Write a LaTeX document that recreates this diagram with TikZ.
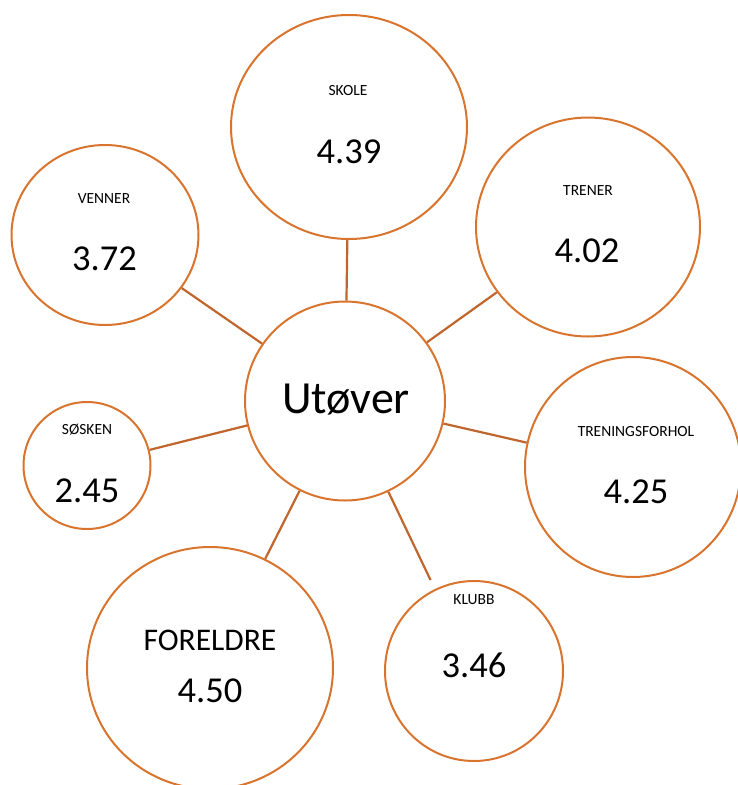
\documentclass[tikz,border=0pt]{standalone}
\usepackage{fontspec}
\setmainfont{Carlito}
\usetikzlibrary{shapes.geometric}
\definecolor{ringorange}{HTML}{D8742E}
\definecolor{spokebrown}{HTML}{C0662C}
\tikzset{
  ring/.style={ellipse, draw=ringorange, line width=2pt, fill=white, inner sep=0pt},
  spoke/.style={draw=spokebrown, line width=2.2pt},
  smalllabel/.style={inner sep=0pt, font=\fontsize{15.5}{16}\selectfont},
  value/.style={inner sep=0pt, font=\fontsize{36.5}{38}\selectfont},
}
\begin{document}
\begin{tikzpicture}[x=1pt, y=-1pt]
  \useasboundingbox (0,0) rectangle (738,785);
  \clip (0,0) rectangle (738,785);

  % hub and satellite circles
  \node[ring, minimum width=200pt, minimum height=199pt] (hub) at (345,401) {};
  \node[ring, minimum width=236pt, minimum height=224pt] (skole) at (349,127) {};
  \node[ring, minimum width=187pt, minimum height=180pt] (venner) at (105,235) {};
  \node[ring, minimum width=224pt, minimum height=219pt] (trener) at (588,227) {};
  \node[ring, minimum width=127pt, minimum height=127pt] (sosken) at (87,465.5) {};
  \node[ring, minimum width=216pt, minimum height=220pt] (forhold) at (633,467) {};
  \node[ring, minimum width=246pt, minimum height=242pt] (foreldre) at (210,668) {};
  \node[ring, minimum width=178pt, minimum height=180pt] (klubb) at (474,671) {};

  % spokes from the hub
  \path[spoke] (hub) -- (skole);
  \path[spoke] (hub) -- (venner);
  \path[spoke] (hub) -- (trener);
  \path[spoke] (hub) -- (sosken);
  \path[spoke] (hub) -- (forhold);
  \path[spoke] (hub) -- (foreldre);
  \path[spoke, shorten >=10pt] (hub) -- (klubb);

  % texts
  \node[inner sep=0pt, font=\fontsize{46}{48}\selectfont] (hubtext) at (346,400) {Utøver};

  \node[smalllabel] (skoletext) at (348,91) {SKOLE};
  \node[value] (skoleval) at (349,152) {4.39};

  \node[smalllabel] (vennertext) at (104,199) {VENNER};
  \node[value] (vennerval) at (104.5,259) {3.72};

  \node[smalllabel] (trenertext) at (588,191) {TRENER};
  \node[value] (trenerval) at (587,251) {4.02};

  \node[smalllabel] (soskentext) at (87,430) {SØSKEN};
  \node[value] (soskenval) at (87,491) {2.45};

  \node[smalllabel] (forholdtext) at (636,432) {TRENINGSFORHOL};
  \node[value] (forholdval) at (636,492) {4.25};

  \node[inner sep=0pt, font=\fontsize{31.5}{33}\selectfont] (foreldretext) at (210,640) {FORELDRE};
  \node[value] (foreldreval) at (210,691) {4.50};

  \node[smalllabel] (klubbtext) at (474,600) {KLUBB};
  \node[value] (klubbval) at (474,665) {3.46};
\end{tikzpicture}
\end{document}
